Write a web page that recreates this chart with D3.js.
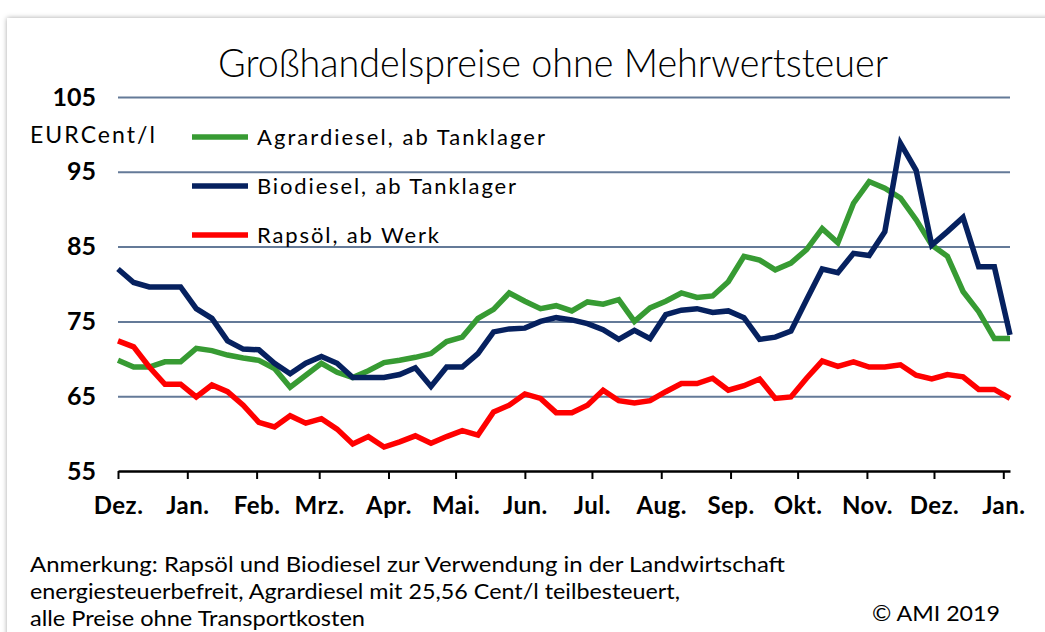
<!DOCTYPE html>
<html>
<head>
<meta charset="utf-8">
<script src="https://cdn.jsdelivr.net/npm/d3@7"></script>
<style>
  body { margin: 0; background: #ffffff; overflow: hidden; }
  #card { position: absolute; left: 7px; top: 18px; width: 1100px; height: 700px; background: #fff; box-shadow: 0 0 5px rgba(0,0,0,0.35); }
  #chart { position: absolute; left: 0; top: 0; }
  text { font-family: Lato, "Open Sans", sans-serif; }
</style>
</head>
<body>
<div id="card"></div>
<svg id="chart" width="1045" height="632"></svg>
<script>

// DATA (weekly, Dec 2017 - Jan 2019)
let monthLabels = ["Dez.", "Jan.", "Feb.", "Mrz.", "Apr.", "Mai.", "Jun.", "Jul.", "Aug.", "Sep.", "Okt.", "Nov.", "Dez.", "Jan."]
let yTicks = [55, 65, 75, 85, 95, 105]

let agrardiesel = [69.8, 68.9, 68.9, 69.6, 69.6, 71.4, 71.1, 70.5, 70.1, 69.8,
    68.7, 66.2, 67.8, 69.4, 68.2, 67.5, 68.4, 69.5, 69.8, 70.2,
    70.7, 72.3, 72.9, 75.4, 76.6, 78.8, 77.7, 76.7, 77.1, 76.4,
    77.6, 77.3, 77.9, 75.0, 76.8, 77.7, 78.8, 78.2, 78.4, 80.3,
    83.7, 83.2, 81.9, 82.8, 84.6, 87.4, 85.5, 90.8, 93.7, 92.8,
    91.5, 88.6, 85.2, 83.7, 79.0, 76.3, 72.7, 72.7]

let biodiesel = [82.0, 80.2, 79.6, 79.6, 79.6, 76.7, 75.4, 72.4, 71.3, 71.2,
    69.4, 68.0, 69.4, 70.3, 69.4, 67.5, 67.5, 67.5, 67.9, 68.8,
    66.3, 68.9, 68.9, 70.7, 73.6, 74.0, 74.1, 75.0, 75.5, 75.2,
    74.7, 73.9, 72.6, 73.8, 72.7, 75.9, 76.5, 76.7, 76.2, 76.4,
    75.5, 72.6, 72.9, 73.7, 77.9, 82.0, 81.5, 84.1, 83.8, 87.0,
    98.8, 95.2, 85.2, 87.0, 88.9, 82.3, 82.3, 73.2]

let rapsoel = [72.4, 71.6, 68.9, 66.6, 66.6, 64.9, 66.5, 65.6, 63.8, 61.5,
    60.9, 62.4, 61.4, 62.0, 60.6, 58.6, 59.6, 58.2, 58.9, 59.7,
    58.7, 59.6, 60.4, 59.8, 62.9, 63.8, 65.3, 64.7, 62.8, 62.8,
    63.8, 65.8, 64.4, 64.1, 64.4, 65.6, 66.7, 66.7, 67.4, 65.8,
    66.4, 67.3, 64.7, 64.9, 67.4, 69.7, 69.0, 69.6, 68.9, 68.9,
    69.2, 67.8, 67.3, 67.9, 67.6, 65.9, 65.9, 64.7]

let weeks = d3.timeMonday.range(new Date(2017, 11, 4), new Date(2019, 0, 8))
let monthTicks = monthLabels.map((m, i) => new Date(2017, 11 + i, 4))

let series = [
    {name: "Agrardiesel, ab Tanklager", color: "#379b33", values: agrardiesel},
    {name: "Biodiesel, ab Tanklager", color: "#06215f", values: biodiesel},
    {name: "Rapsöl, ab Werk", color: "#ff0000", values: rapsoel}
]

let margins = {top: 97, bottom: 161, left: 118, right: 35}
let svgWidth = 1045 - margins.left - margins.right
let svgHeight = 632 - margins.top - margins.bottom

let x = d3.scaleTime().domain([weeks[0], weeks[weeks.length - 1]]).range([0, svgWidth])
let y = d3.scaleLinear().domain([55, 105]).range([svgHeight, 0])

let chartContainer = d3.select("#chart")

let chart = chartContainer
    .append('g')
    .attr("transform", `translate(${margins.left},${margins.top})`)

// GRID + Y AXIS
let yAxis = chart
    .append('g')
    .call(d3.axisLeft(y).tickValues(yTicks).tickSizeInner(-svgWidth).tickSizeOuter(0).tickPadding(22))
yAxis.select('.domain').remove()
yAxis.selectAll('.tick line')
    .attr('stroke', '#647a98')
    .attr('stroke-width', 2)
    .filter(d => d == 55).remove()
yAxis.selectAll('.tick text')
    .attr('fill', '#000')
    .attr('font-size', 25)
    .attr('font-weight', 'bold')

// X AXIS
let xAxis = chart
    .append('g')
    .attr('transform', `translate(0, ${svgHeight})`)
    .call(d3.axisBottom(x).tickValues(monthTicks).tickSizeInner(8).tickSizeOuter(0).tickPadding(18)
        .tickFormat((d, i) => monthLabels[i]))
xAxis.select('.domain').attr('stroke', '#000').attr('stroke-width', 2.5)
xAxis.selectAll('.tick line').attr('stroke', '#000').attr('stroke-width', 2)
xAxis.selectAll('.tick text')
    .attr('fill', '#000')
    .attr('font-size', 24)
    .attr('font-weight', 'bold')
    .attr('letter-spacing', 0.5)

// LINES
let line = d3.line()
    .x((d, i) => x(weeks[i]))
    .y(d => y(d))

chart
    .selectAll('.series')
    .data(series)
    .enter()
    .append('path')
        .classed('series', true)
        .attr('d', d => line(d.values))
        .attr('fill', 'none')
        .attr('stroke', d => d.color)
        .attr('stroke-width', 5.5)
        .attr('stroke-linejoin', 'miter')

// LEGEND
let legendWidths = [288, 259, 182]
let legend = chartContainer
    .selectAll('.legend')
    .data(series)
    .enter()
    .append('g')
        .classed('legend', true)
        .attr('transform', (d, i) => `translate(192, ${137 + i * 49})`)

legend.append('line')
    .attr('x1', 0).attr('x2', 56)
    .attr('stroke', d => d.color)
    .attr('stroke-width', 5.5)

legend.append('text')
    .attr('x', 65)
    .attr('dy', '0.36em')
    .attr('font-size', 22)
    .attr('textLength', (d, i) => legendWidths[i])
    .text(d => d.name)

// GRAPH TITLE
chartContainer
    .append('text')
    .attr('x', 218)
    .attr('y', 77)
    .attr('font-size', 40)
    .attr('font-weight', 300)
    .attr('textLength', 670)
    .attr('lengthAdjust', 'spacingAndGlyphs')
    .text("Großhandelspreise ohne Mehrwertsteuer")

// UNIT
chartContainer
    .append('text')
    .attr('x', 30)
    .attr('y', 143)
    .attr('font-size', 23)
    .attr('textLength', 125)
    .text("EURCent/l")

// NOTE
let notes = ["Anmerkung: Rapsöl und Biodiesel zur Verwendung in der Landwirtschaft",
    "energiesteuerbefreit, Agrardiesel mit 25,56 Cent/l teilbesteuert,",
    "alle Preise ohne Transportkosten"]
let noteWidths = [755, 650, 335]

chartContainer
    .selectAll('.note')
    .data(notes)
    .enter()
    .append('text')
        .classed('note', true)
        .attr('x', 30)
        .attr('y', (d, i) => 572 + i * 27)
        .attr('font-size', 21)
        .attr('textLength', (d, i) => noteWidths[i])
        .attr('lengthAdjust', 'spacingAndGlyphs')
        .text(d => d)

chartContainer
    .append('text')
    .attr('x', 872)
    .attr('y', 621)
    .attr('font-size', 21)
    .attr('textLength', 128)
    .attr('lengthAdjust', 'spacingAndGlyphs')
    .text("© AMI 2019")

</script>
</body>
</html>
